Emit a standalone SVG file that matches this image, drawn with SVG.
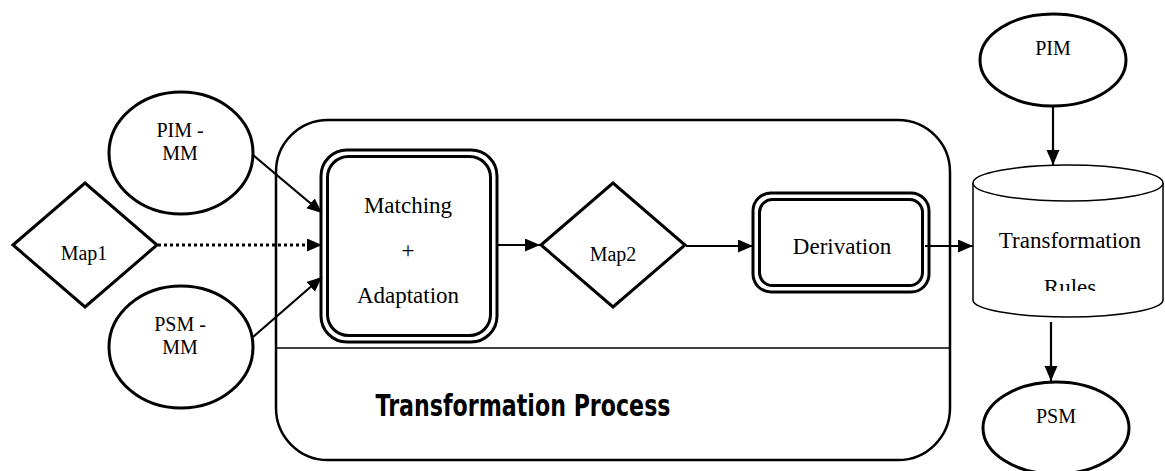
<svg xmlns="http://www.w3.org/2000/svg" width="1165" height="471" viewBox="0 0 1165 471">
  <style>
    .shape { fill: #fff; stroke: #000; stroke-width: 3; }
    .thin { fill: #fff; stroke: #000; stroke-width: 1.5; }
    .lbl { font-family: "Liberation Serif", "Times New Roman", serif; font-size: 20px; fill: #000; text-anchor: middle; }
    .big { font-family: "Liberation Serif", "Times New Roman", serif; font-size: 23px; fill: #000; text-anchor: middle; }
    .title { font-family: "Comic Sans MS", "DejaVu Sans", sans-serif; font-weight: bold; font-size: 31px; fill: #000; text-anchor: middle; }
    .link { fill: none; stroke: #000; stroke-width: 2.2; marker-end: url(#arrow); }
    .dotted { stroke-dasharray: 3 3; stroke-width: 3; }
  </style>
  <defs>
    <marker id="arrow" markerUnits="userSpaceOnUse" markerWidth="16" markerHeight="14" refX="15" refY="6.5" orient="auto">
      <path d="M0,0 L15,6.5 L0,13 z" fill="#000"/>
    </marker>
    <clipPath id="rulesClip">
      <rect x="970" y="160" width="195" height="131"/>
    </clipPath>
  </defs>
  <rect width="1165" height="471" fill="#fff"/>

  <!-- process container -->
  <g id="process">
    <rect x="276" y="120" width="674" height="340" rx="52" ry="52" fill="#fff" stroke="#000" stroke-width="2.5"/>
    <line x1="276" y1="348" x2="950" y2="348" stroke="#000" stroke-width="1.5"/>
    <text class="title" x="523" y="416" textLength="295" lengthAdjust="spacingAndGlyphs">Transformation Process</text>
  </g>

  <!-- input models -->
  <g id="pim-mm">
    <ellipse class="shape" cx="181" cy="153" rx="72" ry="61"/>
    <text class="lbl" x="180" y="137">PIM -</text>
    <text class="lbl" x="180" y="160">MM</text>
  </g>
  <g id="map1">
    <polygon class="shape" points="13,245 85,183 157,245 85,307"/>
    <text class="lbl" x="84" y="260">Map1</text>
  </g>
  <g id="psm-mm">
    <ellipse class="shape" cx="181" cy="347" rx="72" ry="61"/>
    <text class="lbl" x="180" y="331">PSM -</text>
    <text class="lbl" x="180" y="354">MM</text>
  </g>

  <!-- process steps -->
  <g id="matching">
    <rect x="321" y="150" width="176" height="192" rx="26" ry="26" class="shape"/>
    <rect x="327.5" y="156.5" width="163" height="179" rx="21" ry="21" class="shape"/>
    <text class="big" x="408" y="213">Matching</text>
    <text class="big" x="408" y="258">+</text>
    <text class="big" x="408" y="303">Adaptation</text>
  </g>
  <g id="map2">
    <polygon class="shape" points="541,245 613,183 685,245 613,307"/>
    <text class="lbl" x="613" y="261">Map2</text>
  </g>
  <g id="derivation">
    <rect x="753" y="193" width="176" height="99" rx="18" ry="18" class="shape"/>
    <rect x="759.5" y="199.5" width="163" height="86" rx="13" ry="13" class="shape"/>
    <text class="big" x="842" y="254">Derivation</text>
  </g>

  <!-- rule repository -->
  <g id="rules">
    <path class="thin" d="M973,183 L973,300 A95,17 0 0 0 1163,300 L1163,183"/>
    <ellipse class="thin" cx="1068" cy="183" rx="95" ry="18"/>
    <text class="big" x="1070" y="248" font-size="22">Transformation</text>
    <text class="big" x="1070" y="295" font-size="22" clip-path="url(#rulesClip)">Rules</text>
  </g>
  <g id="pim">
    <ellipse class="shape" cx="1053" cy="60" rx="73" ry="46"/>
    <text class="lbl" x="1053" y="55">PIM</text>
  </g>
  <g id="psm">
    <ellipse class="shape" cx="1056" cy="428" rx="73" ry="46"/>
    <text class="lbl" x="1056" y="423">PSM</text>
  </g>

  <!-- connectors -->
  <g id="connectors">
    <line class="link" x1="253" y1="155" x2="322" y2="213"/>
    <line class="link dotted" x1="158" y1="245" x2="322" y2="245"/>
    <line class="link" x1="253" y1="337" x2="322" y2="277"/>
    <line class="link" x1="497" y1="245" x2="540" y2="245"/>
    <line class="link" x1="686" y1="246" x2="753" y2="246"/>
    <line class="link" x1="925" y1="246" x2="973" y2="246"/>
    <line class="link" x1="1053" y1="107" x2="1053" y2="165"/>
    <line class="link" x1="1051" y1="322" x2="1051" y2="381"/>
  </g>
</svg>
